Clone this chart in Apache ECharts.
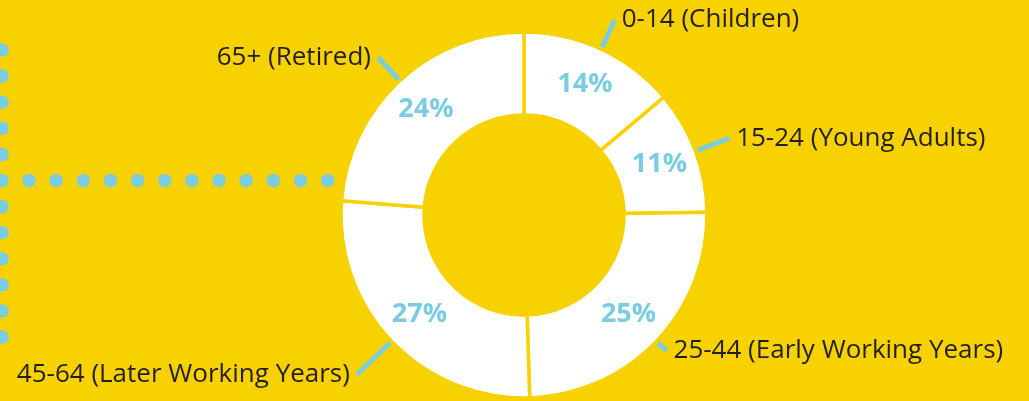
<!DOCTYPE html>
<html>
<head>
<meta charset="utf-8">
<style>
html,body{margin:0;padding:0;background:#F8D200;}
#chart{width:1029px;height:401px;}
</style>
<script src="https://cdn.jsdelivr.net/npm/echarts@6/dist/echarts.min.js"></script>
</head>
<body>
<div id="chart"></div>
<script>
const categories = ['0-14 (Children)', '15-24 (Young Adults)', '25-44 (Early Working Years)', '45-64 (Later Working Years)', '65+ (Retired)'];
const shares = [14, 11, 25, 27, 24];
const leaderLengths = [30, 34, 12, 46, 30];

const YELLOW = '#F8D200';
const BLUE = '#7ACCE0';
const DARK = '#231F20';

const chart = echarts.init(document.getElementById('chart'), null, {renderer: 'canvas'});

// decorative dotted lines on the left
const dots = [];
for (let i = 0; i < 12; i++) {
  dots.push({type: 'circle', silent: true, shape: {cx: 2, cy: 50 + i * 26.1, r: 6.8}, style: {fill: BLUE}});
}
for (let i = 0; i < 12; i++) {
  dots.push({type: 'circle', silent: true, shape: {cx: 29 + i * 27.15, cy: 180.5, r: 6.8}, style: {fill: BLUE}});
}

const baseData = categories.map((name, i) => ({name: name, value: shares[i]}));

chart.setOption({
  backgroundColor: YELLOW,
  animation: false,
  graphic: dots,
  series: [
    {
      type: 'pie',
      center: [524, 215],
      radius: [100, 183],
      startAngle: 90,
      clockwise: true,
      silent: true,
      itemStyle: {color: '#ffffff', borderColor: YELLOW, borderWidth: 3.5},
      label: {
        position: 'inside',
        formatter: '{c}%',
        color: BLUE,
        fontFamily: 'Open Sans',
        fontWeight: 'bold',
        fontSize: 27
      },
      labelLine: {show: false},
      data: baseData
    },
    {
      type: 'pie',
      center: [524, 215],
      radius: [100, 185],
      startAngle: 90,
      clockwise: true,
      silent: true,
      itemStyle: {color: 'rgba(0,0,0,0)', borderWidth: 0},
      label: {
        position: 'outside',
        formatter: '{b}',
        color: DARK,
        fontFamily: 'Open Sans',
        fontSize: 26,
        distanceToLabelLine: 7
      },
      labelLine: {
        show: true,
        length2: 0,
        lineStyle: {color: BLUE, width: 5, cap: 'butt'}
      },
      avoidLabelOverlap: false,
      data: categories.map((name, i) => ({
        name: name,
        value: shares[i],
        labelLine: {length: leaderLengths[i], length2: 0}
      }))
    }
  ]
});
</script>
</body>
</html>
